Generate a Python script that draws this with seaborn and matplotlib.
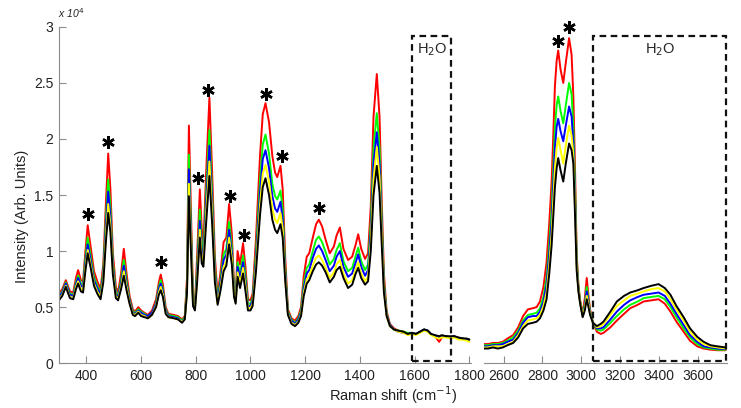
import matplotlib
matplotlib.use('Agg')
import matplotlib.pyplot as plt
import pandas as pd
import seaborn as sns
from matplotlib.patches import Rectangle

# espectros Raman (intensidade em unidades de 1e4)
series = ['S1', 'S2', 'S3', 'S4', 'S5']
cores = ['#ff0000', '#00ff00', '#0000ff', '#ffff00', '#000000']

# painel esquerdo: 300 - 1800 cm-1
x_esq = [300, 312, 325, 340, 352, 362, 370, 380, 388, 396, 405, 415, 428, 440, 452,
         462, 472, 480, 488, 497, 508, 516, 527, 537, 547, 558, 570, 578, 590, 600,
         612, 625, 640, 655, 665, 672, 680, 690, 700, 720, 735, 750, 760, 768, 775,
         782, 790, 797, 805, 815, 822, 828, 838, 850, 860, 870, 880, 890, 902, 912,
         922, 932, 940, 946, 953, 962, 973, 982, 991, 1000, 1008, 1020, 1035, 1045, 1055,
         1068, 1080, 1090, 1098, 1110, 1118, 1127, 1137, 1150, 1163, 1175, 1185, 1195, 1206, 1215,
         1228, 1240, 1250, 1262, 1275, 1290, 1305, 1315, 1327, 1340, 1357, 1372, 1385, 1394, 1405,
         1419, 1430, 1440, 1450, 1462, 1472, 1480, 1488, 1498, 1510, 1525, 1540, 1560, 1575, 1590,
         1605, 1620, 1635, 1648, 1660, 1675, 1690, 1700, 1715, 1730, 1745, 1760, 1775, 1790, 1800]
vermelho_esq = [0.62, 0.66, 0.74, 0.64, 0.63, 0.76, 0.83, 0.74, 0.73, 0.98, 1.23, 1.05, 0.82, 0.73, 0.66,
                0.88, 1.45, 1.87, 1.55, 0.98, 0.68, 0.63, 0.80, 1.02, 0.80, 0.60, 0.48, 0.46, 0.50, 0.47,
                0.45, 0.43, 0.47, 0.57, 0.72, 0.79, 0.70, 0.50, 0.44, 0.43, 0.42, 0.39, 0.42, 0.75, 2.12,
                1.40, 0.60, 0.52, 0.95, 1.55, 1.20, 1.05, 1.70, 2.37, 1.70, 0.95, 0.60, 0.80, 1.08, 1.12,
                1.42, 1.15, 0.70, 0.58, 1.00, 0.88, 1.07, 0.85, 0.57, 0.56, 0.62, 1.10, 1.85, 2.22, 2.32,
                2.15, 1.85, 1.70, 1.66, 1.76, 1.55, 0.95, 0.48, 0.40, 0.38, 0.42, 0.50, 0.78, 0.95, 0.98,
                1.12, 1.24, 1.28, 1.22, 1.10, 0.98, 1.04, 1.14, 1.21, 1.02, 0.92, 0.95, 1.06, 1.15, 1.02,
                0.93, 0.98, 1.40, 2.20, 2.58, 2.20, 1.45, 0.80, 0.46, 0.35, 0.31, 0.29, 0.28, 0.26, 0.27,
                0.26, 0.28, 0.30, 0.29, 0.26, 0.24, 0.19, 0.23, 0.24, 0.23, 0.24, 0.22, 0.22, 0.21, 0.21]
verde_esq = [0.60, 0.64, 0.72, 0.62, 0.61, 0.72, 0.78, 0.71, 0.70, 0.92, 1.12, 0.97, 0.77, 0.69, 0.63,
             0.82, 1.31, 1.64, 1.39, 0.90, 0.64, 0.60, 0.74, 0.92, 0.74, 0.57, 0.46, 0.45, 0.48, 0.46,
             0.44, 0.42, 0.45, 0.54, 0.68, 0.74, 0.66, 0.48, 0.43, 0.42, 0.41, 0.38, 0.41, 0.70, 1.86,
             1.25, 0.57, 0.50, 0.85, 1.37, 1.07, 0.98, 1.52, 2.08, 1.51, 0.86, 0.57, 0.74, 0.97, 1.02,
             1.26, 1.04, 0.66, 0.56, 0.90, 0.80, 0.96, 0.77, 0.53, 0.53, 0.58, 0.98, 1.63, 1.95, 2.04,
             1.87, 1.60, 1.49, 1.46, 1.54, 1.37, 0.86, 0.46, 0.39, 0.36, 0.40, 0.47, 0.71, 0.85, 0.88,
             1.00, 1.10, 1.13, 1.08, 0.99, 0.88, 0.93, 1.01, 1.07, 0.91, 0.82, 0.85, 0.96, 1.03, 0.91,
             0.83, 0.88, 1.25, 1.92, 2.23, 1.92, 1.30, 0.73, 0.44, 0.34, 0.30, 0.29, 0.28, 0.27, 0.27,
             0.26, 0.28, 0.30, 0.29, 0.26, 0.24, 0.23, 0.24, 0.24, 0.23, 0.24, 0.22, 0.22, 0.21, 0.21]
azul_esq = [0.59, 0.63, 0.71, 0.61, 0.60, 0.70, 0.76, 0.69, 0.68, 0.88, 1.06, 0.93, 0.74, 0.67, 0.61,
            0.79, 1.24, 1.53, 1.31, 0.86, 0.62, 0.59, 0.71, 0.87, 0.71, 0.56, 0.45, 0.44, 0.47, 0.45,
            0.43, 0.42, 0.45, 0.53, 0.66, 0.71, 0.64, 0.47, 0.42, 0.41, 0.40, 0.37, 0.40, 0.67, 1.73,
            1.18, 0.55, 0.49, 0.80, 1.27, 1.00, 0.93, 1.43, 1.94, 1.42, 0.81, 0.55, 0.71, 0.92, 0.97,
            1.19, 0.98, 0.63, 0.55, 0.86, 0.76, 0.90, 0.72, 0.51, 0.51, 0.56, 0.92, 1.52, 1.82, 1.90,
            1.74, 1.49, 1.38, 1.35, 1.44, 1.28, 0.82, 0.45, 0.38, 0.35, 0.39, 0.45, 0.67, 0.80, 0.83,
            0.94, 1.02, 1.05, 1.00, 0.92, 0.82, 0.87, 0.95, 1.00, 0.86, 0.77, 0.80, 0.90, 0.97, 0.86,
            0.78, 0.83, 1.17, 1.78, 2.06, 1.78, 1.22, 0.70, 0.43, 0.34, 0.30, 0.28, 0.27, 0.26, 0.27,
            0.26, 0.28, 0.30, 0.29, 0.26, 0.24, 0.23, 0.24, 0.24, 0.23, 0.24, 0.22, 0.22, 0.21, 0.21]
amarelo_esq = [0.57, 0.61, 0.69, 0.59, 0.58, 0.68, 0.73, 0.66, 0.65, 0.84, 1.01, 0.89, 0.71, 0.64, 0.59,
               0.75, 1.16, 1.42, 1.23, 0.82, 0.60, 0.57, 0.68, 0.82, 0.68, 0.54, 0.44, 0.43, 0.46, 0.43,
               0.42, 0.40, 0.43, 0.51, 0.63, 0.68, 0.61, 0.45, 0.41, 0.40, 0.39, 0.37, 0.39, 0.64, 1.60,
               1.10, 0.53, 0.48, 0.75, 1.19, 0.94, 0.89, 1.33, 1.80, 1.33, 0.76, 0.53, 0.67, 0.86, 0.91,
               1.12, 0.93, 0.61, 0.54, 0.81, 0.71, 0.85, 0.68, 0.49, 0.49, 0.53, 0.86, 1.41, 1.69, 1.77,
               1.62, 1.38, 1.28, 1.25, 1.34, 1.20, 0.77, 0.44, 0.36, 0.34, 0.37, 0.43, 0.63, 0.75, 0.78,
               0.87, 0.94, 0.96, 0.92, 0.85, 0.76, 0.81, 0.88, 0.92, 0.80, 0.71, 0.74, 0.84, 0.90, 0.80,
               0.73, 0.77, 1.08, 1.64, 1.93, 1.66, 1.14, 0.66, 0.42, 0.33, 0.30, 0.28, 0.27, 0.25, 0.26,
               0.25, 0.27, 0.29, 0.28, 0.25, 0.23, 0.22, 0.23, 0.23, 0.22, 0.23, 0.21, 0.21, 0.20, 0.19]
preto_esq = [0.56, 0.60, 0.68, 0.58, 0.57, 0.66, 0.71, 0.64, 0.63, 0.81, 0.98, 0.86, 0.69, 0.62, 0.57,
             0.72, 1.10, 1.34, 1.17, 0.79, 0.58, 0.56, 0.66, 0.78, 0.65, 0.53, 0.43, 0.42, 0.45, 0.42,
             0.41, 0.40, 0.43, 0.50, 0.61, 0.65, 0.59, 0.44, 0.41, 0.40, 0.39, 0.36, 0.39, 0.62, 1.49,
             1.03, 0.51, 0.47, 0.72, 1.12, 0.89, 0.86, 1.25, 1.67, 1.24, 0.72, 0.52, 0.64, 0.82, 0.87,
             1.06, 0.88, 0.59, 0.53, 0.77, 0.67, 0.80, 0.64, 0.47, 0.47, 0.51, 0.81, 1.32, 1.57, 1.65,
             1.50, 1.28, 1.19, 1.16, 1.24, 1.12, 0.74, 0.43, 0.35, 0.33, 0.36, 0.42, 0.60, 0.71, 0.74,
             0.82, 0.88, 0.90, 0.87, 0.81, 0.72, 0.77, 0.83, 0.86, 0.76, 0.67, 0.70, 0.80, 0.85, 0.76,
             0.70, 0.73, 1.00, 1.50, 1.76, 1.52, 1.06, 0.63, 0.42, 0.33, 0.30, 0.29, 0.28, 0.26, 0.27,
             0.26, 0.28, 0.30, 0.29, 0.26, 0.25, 0.24, 0.25, 0.24, 0.24, 0.24, 0.23, 0.22, 0.22, 0.21]

# painel direito: 2500 - 3750 cm-1
x_dir = [2500, 2520, 2545, 2570, 2596, 2620, 2649, 2675, 2700, 2725, 2751, 2770, 2787, 2805, 2821,
         2835, 2847, 2856, 2864, 2873, 2881, 2893, 2907, 2920, 2937, 2950, 2959, 2968, 2976, 2985,
         2994, 3007, 3018, 3028, 3037, 3045, 3060, 3080, 3100, 3114, 3150, 3183, 3220, 3252, 3290,
         3321, 3360, 3398, 3430, 3459, 3490, 3527, 3560, 3597, 3630, 3665, 3700, 3743]
vermelho_dir = [0.17, 0.17, 0.18, 0.18, 0.19, 0.22, 0.25, 0.32, 0.42, 0.48, 0.49, 0.50, 0.55, 0.68, 0.90,
                1.25, 1.62, 2.05, 2.47, 2.70, 2.79, 2.62, 2.50, 2.68, 2.90, 2.75, 2.38, 1.70, 0.98, 0.70,
                0.56, 0.44, 0.58, 0.76, 0.60, 0.48, 0.36, 0.28, 0.26, 0.27, 0.32, 0.38, 0.44, 0.49, 0.52,
                0.55, 0.56, 0.57, 0.53, 0.46, 0.37, 0.28, 0.20, 0.15, 0.13, 0.12, 0.115, 0.115]
verde_dir = [0.16, 0.16, 0.17, 0.17, 0.18, 0.20, 0.23, 0.29, 0.38, 0.43, 0.44, 0.45, 0.49, 0.59, 0.76,
             1.07, 1.38, 1.75, 2.10, 2.30, 2.38, 2.25, 2.14, 2.30, 2.50, 2.40, 2.10, 1.55, 0.93, 0.68,
             0.55, 0.43, 0.53, 0.68, 0.56, 0.46, 0.36, 0.30, 0.29, 0.30, 0.36, 0.42, 0.48, 0.52, 0.55,
             0.58, 0.59, 0.60, 0.57, 0.50, 0.41, 0.31, 0.23, 0.17, 0.14, 0.13, 0.12, 0.12]
azul_dir = [0.15, 0.15, 0.16, 0.16, 0.17, 0.19, 0.21, 0.27, 0.36, 0.41, 0.42, 0.42, 0.46, 0.55, 0.70,
            0.98, 1.27, 1.62, 1.92, 2.11, 2.18, 2.07, 1.98, 2.12, 2.29, 2.20, 1.96, 1.45, 0.89, 0.66,
            0.54, 0.42, 0.51, 0.64, 0.54, 0.45, 0.36, 0.31, 0.31, 0.32, 0.39, 0.46, 0.52, 0.56, 0.59,
            0.61, 0.62, 0.63, 0.60, 0.53, 0.44, 0.34, 0.25, 0.19, 0.15, 0.14, 0.13, 0.125]
amarelo_dir = [0.14, 0.14, 0.15, 0.15, 0.15, 0.17, 0.19, 0.25, 0.33, 0.38, 0.39, 0.40, 0.43, 0.51, 0.63,
               0.88, 1.15, 1.47, 1.74, 1.93, 2.01, 1.90, 1.78, 1.94, 2.12, 2.03, 1.86, 1.38, 0.86, 0.65,
               0.54, 0.42, 0.49, 0.60, 0.52, 0.44, 0.36, 0.32, 0.33, 0.35, 0.43, 0.51, 0.56, 0.60, 0.62,
               0.64, 0.66, 0.67, 0.64, 0.57, 0.48, 0.38, 0.28, 0.21, 0.17, 0.15, 0.14, 0.13]
preto_dir = [0.13, 0.13, 0.14, 0.13, 0.14, 0.16, 0.18, 0.23, 0.31, 0.35, 0.36, 0.37, 0.40, 0.47, 0.57,
             0.80, 1.05, 1.32, 1.57, 1.74, 1.83, 1.72, 1.62, 1.78, 1.96, 1.90, 1.78, 1.30, 0.83, 0.64,
             0.53, 0.41, 0.47, 0.57, 0.50, 0.43, 0.36, 0.33, 0.35, 0.37, 0.46, 0.55, 0.60, 0.63, 0.65,
             0.67, 0.69, 0.705, 0.67, 0.61, 0.51, 0.41, 0.31, 0.235, 0.19, 0.16, 0.15, 0.14]

# picos marcados com asterisco
picos_esq_x = [405, 480, 673, 809, 846, 925, 977, 1057, 1116, 1251]
picos_esq_y = [1.33, 1.97, 0.90, 1.65, 2.44, 1.49, 1.14, 2.40, 1.85, 1.38]
picos_dir_x = [2881, 2937]
picos_dir_y = [2.87, 3.00]

ticks_esq = [400, 600, 800, 1000, 1200, 1400, 1600, 1800]
ticks_dir = [2600, 2800, 3000, 3200, 3400, 3600]
ticks_y = [0, 0.5, 1, 1.5, 2, 2.5, 3]
rotulos_y = ['0', '0.5', '1', '1.5', '2', '2.5', '3']


def tabela(x, valores):
    linhas = []
    for nome, vals in zip(series, valores):
        for xi, yi in zip(x, vals):
            linhas.append({'x': xi, 'y': yi, 'serie': nome})
    return pd.DataFrame(linhas)


df_esq = tabela(x_esq, [vermelho_esq, verde_esq, azul_esq, amarelo_esq, preto_esq])
df_dir = tabela(x_dir, [vermelho_dir, verde_dir, azul_dir, amarelo_dir, preto_dir])

sns.set_style('white')
plt.rcParams['font.family'] = ['Liberation Sans', 'DejaVu Sans']

fig = plt.figure(figsize=(7.41, 4.08), dpi=100)
ax1 = fig.add_axes([0.0796, 0.110, 0.5555, 0.824])
ax2 = fig.add_axes([0.6535, 0.110, 0.3275, 0.824])

paleta = dict(zip(series, cores))
for ax, df in [(ax1, df_esq), (ax2, df_dir)]:
    sns.lineplot(data=df, x='x', y='y', hue='serie', palette=paleta, hue_order=series,
                 estimator=None, sort=False, linewidth=1.4, legend=False, ax=ax)
    ax.set_xlabel('')
    ax.set_ylabel('')
    ax.set_ylim(0, 3)
    for s in ['top', 'right']:
        ax.spines[s].set_visible(False)
    ax.spines['bottom'].set_color('#8c8c8c')
    ax.spines['left'].set_color('#8c8c8c')
    ax.tick_params(axis='both', direction='in', length=5, color='#8c8c8c',
                   labelsize=10, labelcolor='#222222', pad=4)

ax1.set_xlim(300, 1805)
ax1.set_xticks(ticks_esq)
ax1.set_yticks(ticks_y)
ax1.set_yticklabels(rotulos_y)
ax1.tick_params(axis='x', bottom=True)
ax1.tick_params(axis='y', left=True)

ax2.set_xlim(2500, 3750)
ax2.set_xticks(ticks_dir)
ax2.spines['left'].set_visible(False)
ax2.set_yticks([])
ax2.tick_params(axis='x', bottom=True)

# asteriscos
ax1.plot(picos_esq_x, picos_esq_y, linestyle='none', marker=(6, 2, 0),
         markersize=9, markeredgewidth=1.8, color='black', clip_on=False)
ax2.plot(picos_dir_x, picos_dir_y, linestyle='none', marker=(6, 2, 0),
         markersize=9, markeredgewidth=1.8, color='black', clip_on=False)

# regioes da agua
ax1.add_patch(Rectangle((1592, 0.015), 140, 2.905, fill=False, edgecolor='#111111',
                        linestyle=(0, (3, 2)), linewidth=1.6, clip_on=False, zorder=5))
ax2.add_patch(Rectangle((3062, 0.015), 685, 2.905, fill=False, edgecolor='#111111',
                        linestyle=(0, (3, 2)), linewidth=1.6, clip_on=False, zorder=5))
ax1.text(1663, 2.80, 'H$_2$O', ha='center', va='center', fontsize=10.5)
ax2.text(3407, 2.80, 'H$_2$O', ha='center', va='center', fontsize=10.5)

fig.text(0.078, 0.968, 'x 10$^4$', fontsize=7.5, style='italic', ha='left', va='center',
         color='#222222')
fig.text(0.03, 0.47, 'Intensity (Arb. Units)', rotation=90, ha='center', va='center',
         fontsize=10.5, color='#222222')
fig.text(0.530, 0.032, 'Raman shift (cm$^{-1}$)', ha='center', va='center',
         fontsize=10.5, color='#222222')

fig.savefig('out.png', dpi=100)
